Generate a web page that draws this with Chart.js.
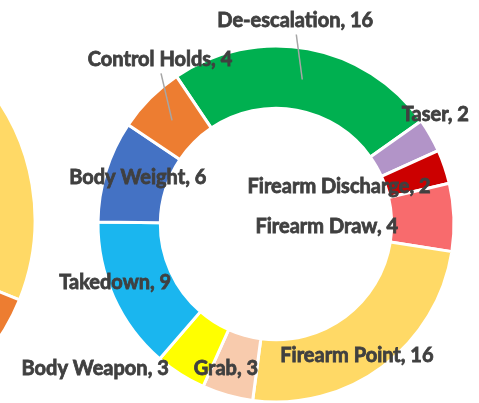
<!DOCTYPE html>
<html>
<head>
<meta charset="utf-8">
<script src="https://cdn.jsdelivr.net/npm/chart.js@4.4.1/dist/chart.umd.min.js"></script>
<style>
  html, body { margin: 0; padding: 0; background: #fff; }
  #wrap { position: relative; width: 479px; height: 403px; overflow: hidden; }
  #sideChart { position: absolute; left: -398px; top: 0; }
  #mainChart { position: absolute; left: 0; top: 0; }
</style>
</head>
<body>
<div id="wrap">
  <canvas id="sideChart" width="440" height="440"></canvas>
  <canvas id="mainChart" width="479" height="403"></canvas>
</div>
<script>
const categories = ['De-escalation', 'Taser', 'Firearm Discharge', 'Firearm Draw', 'Firearm Point',
                    'Grab', 'Body Weapon', 'Takedown', 'Body Weight', 'Control Holds'];
const counts = [16, 2, 2, 4, 16, 3, 3, 9, 6, 4];
const sliceColors = ['#00b050', '#b294c8', '#cc0000', '#f86b6d', '#ffd966',
                     '#f8cbad', '#ffff00', '#1ab6ef', '#4472c4', '#ed7d31'];

// neighbouring chart on the left, only its edge is in view
const sideLabels = ['Yellow', 'Orange', 'Other'];
const sideValues = [35, 10, 55];
const sideColors = ['#ffd966', '#ed7d31', '#a5a5a5'];

// where each label sits, relative to the middle of its slice
const labelOffsets = [[-7, -59], [32, -36], [-76, 10], [-96, 8], [-7, 14],
                      [-10, 3], [-102, 21], [-27, -2], [2, -3], [-12, -61]];
const leaderLines = ['De-escalation', 'Control Holds'];

const sliceLabels = {
    id: 'sliceLabels',
    afterDatasetsDraw(chart) {
        const ctx = chart.ctx;
        const meta = chart.getDatasetMeta(0);
        ctx.save();
        ctx.font = 'bold 20px Lato';
        ctx.textAlign = 'center';
        ctx.textBaseline = 'middle';
        meta.data.forEach((arc, i) => {
            const p = arc.tooltipPosition();
            const x = p.x + labelOffsets[i][0];
            const y = p.y + labelOffsets[i][1];
            if (leaderLines.includes(categories[i])) {
                ctx.strokeStyle = '#a6a6a6';
                ctx.lineWidth = 1.5;
                ctx.beginPath();
                ctx.moveTo(x + 1, y + 14);
                ctx.lineTo(p.x, p.y);
                ctx.stroke();
            }
            const text = categories[i] + ', ' + counts[i];
            ctx.fillStyle = '#404040';
            ctx.strokeStyle = '#404040';
            ctx.lineWidth = 0.8;
            ctx.fillText(text, x, y);
            ctx.strokeText(text, x, y);   // a touch heavier, like the original
        });
        ctx.restore();
    }
};

new Chart(document.getElementById('sideChart'), {
    type: 'doughnut',
    data: {
        labels: sideLabels,
        datasets: [{
            data: sideValues,
            backgroundColor: sideColors,
            borderColor: '#ffffff',
            borderWidth: 3
        }]
    },
    options: {
        responsive: false,
        animation: false,
        rotation: -14,
        radius: 213,
        cutout: '65%',
        plugins: { legend: { display: false }, tooltip: { enabled: false } }
    }
});

new Chart(document.getElementById('mainChart'), {
    type: 'doughnut',
    data: {
        labels: categories,
        datasets: [{
            data: counts,
            backgroundColor: sliceColors,
            borderColor: '#ffffff',
            borderWidth: 3
        }]
    },
    options: {
        responsive: false,
        animation: false,
        rotation: -34,
        radius: 178,
        cutout: '65%',
        layout: { padding: { left: 98, top: 46, right: 25, bottom: 1 } },
        plugins: { legend: { display: false }, tooltip: { enabled: false } }
    },
    plugins: [sliceLabels]
});
</script>
</body>
</html>
